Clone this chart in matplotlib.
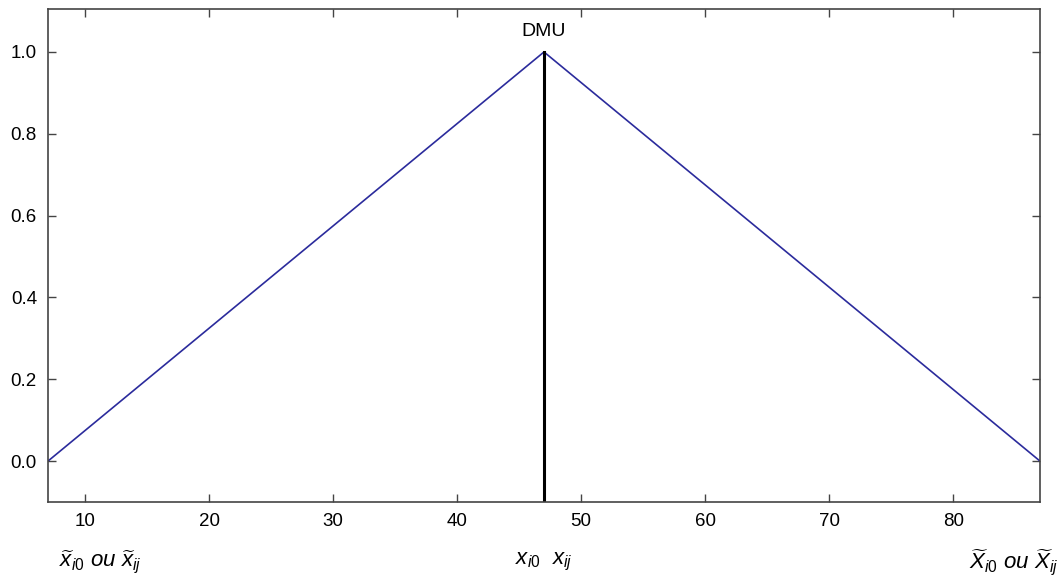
import matplotlib
matplotlib.use("Agg")
import matplotlib.pyplot as plt
from matplotlib.transforms import blended_transform_factory

plt.rcParams['font.family'] = ['Liberation Sans', 'DejaVu Sans']
plt.rcParams['mathtext.fontset'] = 'custom'
plt.rcParams['mathtext.rm'] = 'Liberation Sans'
plt.rcParams['mathtext.it'] = 'Liberation Sans:italic'

# triangular membership function
tri_x = [7, 47, 87]
tri_y = [0.0, 1.0, 0.0]
dmu_x = 47
dmu_label = "DMU"

xticks = [10, 20, 30, 40, 50, 60, 70, 80]
yticks = [0.0, 0.2, 0.4, 0.6, 0.8, 1.0]

# labels under the axis (text, x position)
bottom_labels = [
    (r'$\widetilde{x}_{i0}$ $ou$ $\widetilde{x}_{ij}$', 11.2),
    (r'$x_{i0}$  $x_{ij}$', 47),
    (r'$\widetilde{X}_{i0}$ $ou$ $\widetilde{X}_{ij}$', 84.9),
]

fig = plt.figure(figsize=(10.61, 5.82), dpi=100)
ax = fig.add_axes([48 / 1061, 80 / 582, 992 / 1061, 493 / 582])

ax.plot(tri_x, tri_y, color='#2b2b9c', lw=1.2)
ax.plot([dmu_x, dmu_x], [-0.1, 1.0], color='black', lw=2.2)
ax.text(dmu_x, 1.03, dmu_label, ha='center', va='bottom', fontsize=14)

ax.set_xlim(7, 87)
ax.set_ylim(-0.1, 1.105)
ax.set_xticks(xticks)
ax.set_yticks(yticks)
ax.set_yticklabels([f"{v:.1f}" for v in yticks])
ax.tick_params(direction='in', top=True, right=True, labelsize=13.5, length=6, width=1, color='#444444', pad=8)
for s in ax.spines.values():
    s.set_color('#444444')
    s.set_linewidth(1.2)

trans = blended_transform_factory(ax.transData, fig.transFigure)
for txt, xpos in bottom_labels:
    ax.text(xpos, 20 / 582, txt, transform=trans, ha='center', va='center', fontsize=16, clip_on=False)

fig.savefig('out.png', dpi=100)
